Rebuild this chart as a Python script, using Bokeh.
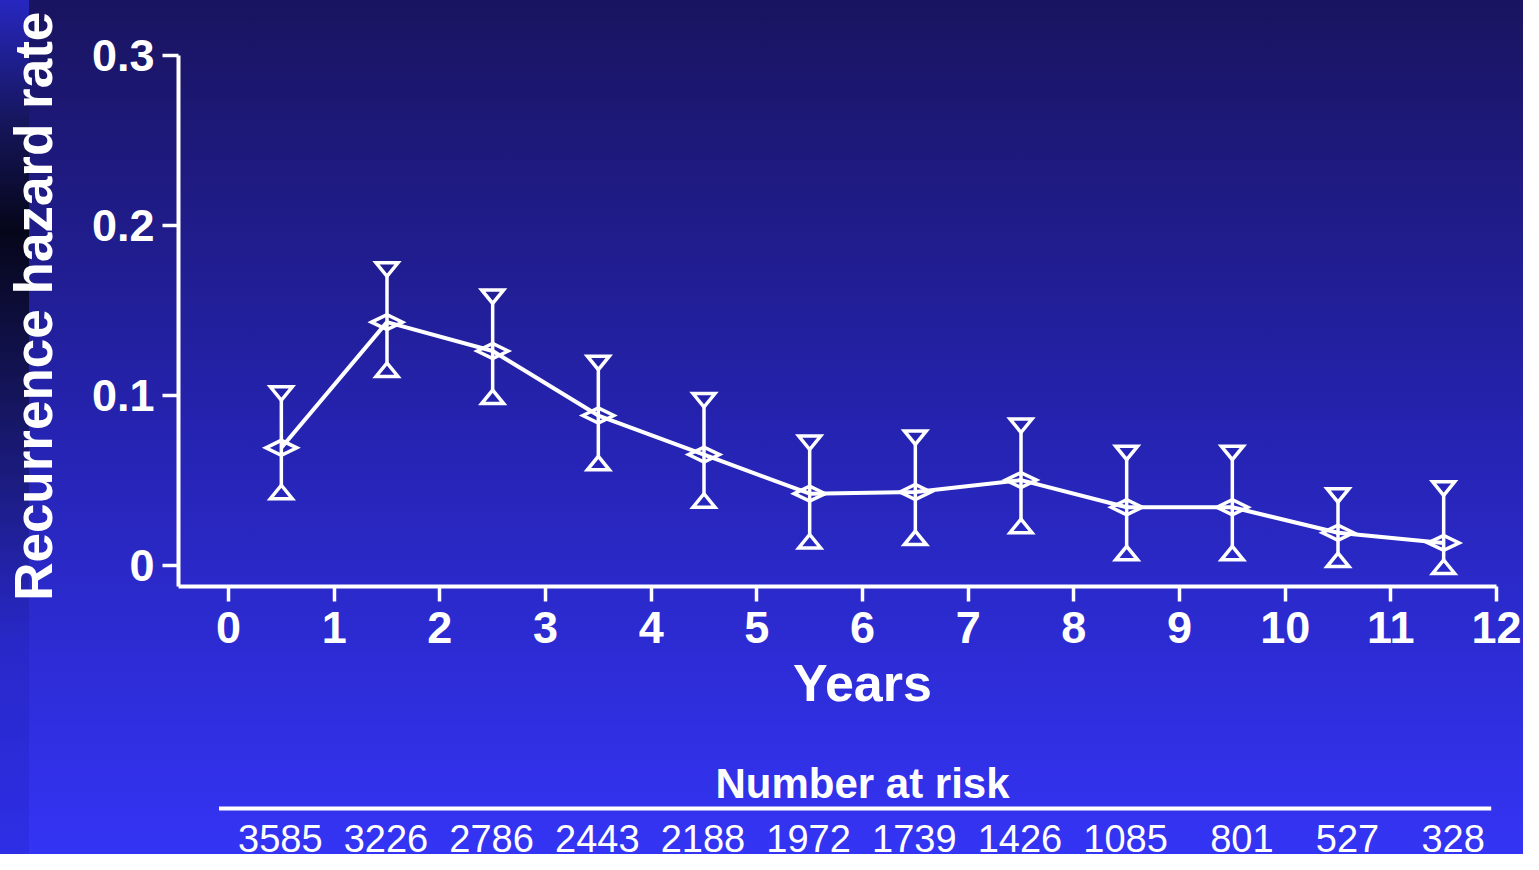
from bokeh.plotting import figure
from bokeh.layouts import column
from bokeh.models import Range1d, FixedTicker, CustomJSTickFormatter
from bokeh.core.properties import value
from bokeh.embed import file_html
from bokeh.resources import INLINE

# ---------------- data ----------------
years_mid = [0.5, 1.5, 2.5, 3.5, 4.5, 5.5, 6.5, 7.5, 8.5, 9.5, 10.5, 11.5]
hazard = [0.069, 0.143, 0.126, 0.088, 0.065, 0.042, 0.043, 0.050, 0.034, 0.034, 0.019, 0.013]
upper = [0.097, 0.170, 0.154, 0.115, 0.093, 0.068, 0.071, 0.078, 0.062, 0.062, 0.037, 0.041]
lower = [0.047, 0.119, 0.103, 0.064, 0.042, 0.018, 0.020, 0.027, 0.011, 0.011, 0.007, 0.003]
at_risk = [3585, 3226, 2786, 2443, 2188, 1972, 1739, 1426, 1085, 801, 527, 328]
x_ticks = list(range(13))
y_ticks = [0, 0.1, 0.2, 0.3]
y_title = "Recurrence hazard rate"
x_title = "Years"
risk_title = "Number at risk"

# ---------------- layout constants (pixels) ----------------
FONT = "Liberation Sans"
W, H = 1523, 854
MAIN_H = 661
FR_L, FR_R = 178, 1496   # frame edges (page x)
FR_T, FR_B = 55, 586     # frame edges (page y)
X_ZERO_PX = 228          # page x of year 0
Y_ZERO_PX = 564.5        # page y of hazard 0

kx = (FR_R - X_ZERO_PX) / 12.0
ky = (Y_ZERO_PX - FR_T) / 0.3
X0 = -(X_ZERO_PX - FR_L) / kx
X1 = 12.0
Y0 = -(FR_B - Y_ZERO_PX) / ky
Y1 = 0.3

def clean(f):
    f.background_fill_alpha = 0
    f.border_fill_alpha = 0
    f.outline_line_color = None
    f.grid.visible = False
    return f

# ---------------- main plot ----------------
x_range = Range1d(X0, X1)
p = clean(figure(
    width=W, height=MAIN_H,
    frame_width=FR_R - FR_L, frame_height=FR_B - FR_T,
    min_border_left=FR_L, min_border_right=W - FR_R,
    min_border_top=FR_T, min_border_bottom=MAIN_H - FR_B,
    x_range=x_range, y_range=Range1d(Y0, Y1),
    output_backend="svg", toolbar_location=None,
))

for ax in (p.xaxis[0], p.yaxis[0]):
    ax.axis_line_color = "white"
    ax.axis_line_width = 4
    ax.major_tick_line_color = "white"
    ax.major_tick_line_width = 3.5
    ax.major_tick_in = 0
    ax.minor_tick_line_color = None
    ax.major_label_text_color = "white"
    ax.major_label_text_font = FONT
    ax.major_label_text_font_style = "bold"
    ax.major_label_text_font_size = "45px"

p.xaxis.ticker = FixedTicker(ticks=x_ticks)
p.xaxis.major_tick_out = 15
p.xaxis.major_label_standoff = 10
p.yaxis.ticker = FixedTicker(ticks=y_ticks)
p.yaxis.major_tick_out = 16
p.yaxis.major_label_standoff = 8
p.yaxis.formatter = CustomJSTickFormatter(code="return tick == 0 ? '0' : tick.toFixed(1);")

# y title as the axis label; two leading no-break spaces lift it to sit as in the original
p.yaxis.axis_label = "\u00a0\u00a0" + y_title
p.yaxis.axis_label_text_color = "white"
p.yaxis.axis_label_text_font = FONT
p.yaxis.axis_label_text_font_style = "bold"
p.yaxis.axis_label_text_font_size = "53px"
p.yaxis.axis_label_standoff = 26

p.line(years_mid, hazard, line_color="white", line_width=4)
p.segment(years_mid, upper, years_mid, lower, line_color="white", line_width=3.5)

tw, th = 11.0 / kx, 13.5 / ky
up_xs = [[x - tw, x + tw, x] for x in years_mid]
up_ys = [[u + th, u + th, u] for u in upper]
lo_xs = [[x - tw, x + tw, x] for x in years_mid]
lo_ys = [[l - th, l - th, l] for l in lower]
p.patches(up_xs, up_ys, fill_color=None, line_color="white", line_width=3.5, line_join="miter")
p.patches(lo_xs, lo_ys, fill_color=None, line_color="white", line_width=3.5, line_join="miter")

dw, dh = 15.5 / kx, 7.5 / ky
d_xs = [[x - dw, x, x + dw, x] for x in years_mid]
d_ys = [[y, y + dh, y, y - dh] for y in hazard]
p.patches(d_xs, d_ys, fill_color=None, line_color="white", line_width=3.5, line_join="miter")

# ---------------- bottom panel: x title and risk table (same x frame as the plot) ----------------
BOT_H = H - MAIN_H
fb = clean(figure(
    width=W, height=BOT_H,
    frame_width=FR_R - FR_L, frame_height=BOT_H,
    min_border_left=FR_L, min_border_right=W - FR_R, min_border_top=0, min_border_bottom=0,
    x_axis_type=None, y_axis_type=None,
    x_range=x_range, y_range=Range1d(H, MAIN_H),
    output_backend="svg", toolbar_location=None,
))
fb.text(x=[6], y=[682], text=[x_title], text_align="center", text_baseline="middle",
        text_color="white", text_font=value(FONT), text_font_style="bold", text_font_size="52px")
fb.text(x=[6], y=[783], text=[risk_title], text_align="center", text_baseline="middle",
        text_color="white", text_font=value(FONT), text_font_style="bold", text_font_size="42px")
fb.segment(x0=[-0.09], y0=[808], x1=[11.95], y1=[808], line_color="white", line_width=4)
fb.text(x=[t + 0.89 for t in x_ticks[:12]], y=[838] * 12, text=[str(n) for n in at_risk],
        text_align="right", text_baseline="middle", text_color="white",
        text_font=value(FONT), text_font_size="38px")

page = column(
    p,
    fb,
    spacing=0,
    styles={
        "background": (
            "linear-gradient(to bottom, #2727c0 0%, #16165e 14%, #06061a 27%, #15155e 47%, "
            "#2828c8 75%, #2e2ee6 100%) left top / 29px 100% no-repeat, "
            "linear-gradient(to bottom, #19145f 0%, #2523b0 50%, #3434f5 100%)"
        )
    },
)

open("out.html", "w").write(file_html(page, INLINE))
